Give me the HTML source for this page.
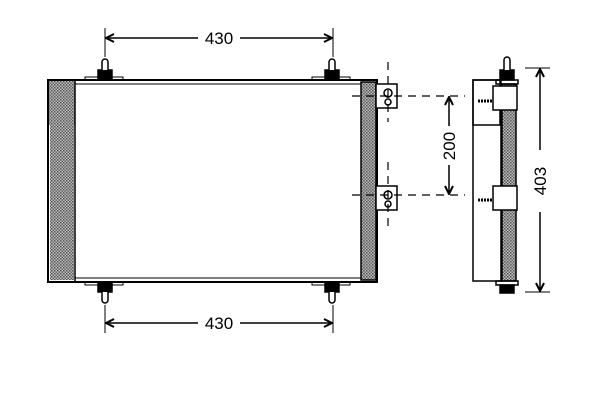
<!DOCTYPE html>
<html><head><style>body{margin:0;background:#fff}svg{display:block}</style></head><body>
<svg width="600" height="400" viewBox="0 0 600 400" xmlns="http://www.w3.org/2000/svg" font-family="Liberation Sans, sans-serif">
<defs>
<pattern id="h" width="3" height="3" patternUnits="userSpaceOnUse"><rect width="3" height="3" fill="#bbb"/><rect width="1.5" height="1.5" fill="#555"/><rect x="1.5" y="1.5" width="1.5" height="1.5" fill="#666"/></pattern>
<marker id="a" markerWidth="10" markerHeight="10" refX="9" refY="5" orient="auto" markerUnits="userSpaceOnUse"><path d="M1,1 L9,5 L1,9" fill="none" stroke="#000" stroke-width="2"/></marker>
</defs>
<g stroke="#000" fill="none" stroke-width="1.5">
<!-- main frame -->
<rect x="48" y="80" width="329" height="202" fill="#fff" stroke-width="2"/>
<rect x="49" y="81" width="26" height="44" fill="url(#h)" stroke="none"/>
<rect x="50" y="125" width="24" height="155" fill="url(#h)" stroke="none"/>
<line x1="75" y1="80" x2="75" y2="282"/>
<rect x="361" y="82" width="15" height="198" fill="url(#h)"/>
<line x1="75" y1="84" x2="361" y2="84" stroke-width="1"/>
<line x1="75" y1="278" x2="361" y2="278" stroke-width="1"/>
<!-- pins -->
<g fill="#000">
<rect x="98" y="70" width="14" height="10"/><rect x="325" y="70" width="14" height="10"/>
<rect x="98" y="282" width="14" height="10"/><rect x="325" y="282" width="14" height="10"/>
</g>
<path d="M102,70 V62 a3,3 0 0 1 6,0 V70 M329,70 V62 a3,3 0 0 1 6,0 V70 M102,292 V300 a3,3 0 0 0 6,0 V292 M329,292 V300 a3,3 0 0 0 6,0 V292" fill="#fff"/>
<g stroke-width="1"><rect x="85" y="77" width="38" height="3"/><rect x="312" y="77" width="38" height="3"/><rect x="85" y="282" width="38" height="3"/><rect x="312" y="282" width="38" height="3"/></g>
<!-- brackets -->
<rect x="376" y="84" width="21" height="24" fill="#fff"/>
<rect x="376" y="186" width="21" height="24" fill="#fff"/>
<circle cx="388" cy="93" r="4"/><circle cx="388" cy="102" r="3"/>
<circle cx="388" cy="195" r="4"/><circle cx="388" cy="204" r="3"/>
<!-- dashed lines -->
<g stroke-dasharray="8,6" stroke-width="1.2">
<line x1="352" y1="96" x2="465" y2="96"/><line x1="352" y1="195" x2="465" y2="195"/>
<line x1="388" y1="62" x2="388" y2="122"/><line x1="388" y1="162" x2="388" y2="226"/>
</g>
<!-- dimensions -->
<line x1="105" y1="28" x2="105" y2="57" stroke-width="1"/><line x1="333" y1="28" x2="333" y2="57" stroke-width="1"/>
<line x1="198" y1="38" x2="106" y2="38" marker-end="url(#a)"/><line x1="240" y1="38" x2="332" y2="38" marker-end="url(#a)"/>
<line x1="105" y1="305" x2="105" y2="333" stroke-width="1"/><line x1="333" y1="305" x2="333" y2="333" stroke-width="1"/>
<line x1="198" y1="323" x2="106" y2="323" marker-end="url(#a)"/><line x1="240" y1="323" x2="332" y2="323" marker-end="url(#a)"/>
<line x1="449" y1="126" x2="449" y2="97" marker-end="url(#a)"/><line x1="449" y1="165" x2="449" y2="194" marker-end="url(#a)"/>
<line x1="525" y1="68" x2="550" y2="68" stroke-width="1"/><line x1="525" y1="292" x2="550" y2="292" stroke-width="1"/>
<line x1="540" y1="150" x2="540" y2="69" marker-end="url(#a)"/><line x1="540" y1="212" x2="540" y2="291" marker-end="url(#a)"/>
<!-- side view -->
<rect x="473" y="80" width="28" height="201" fill="#fff"/>
<rect x="473" y="80" width="27" height="45"/>
<rect x="502" y="84" width="14" height="197" fill="url(#h)"/>
<rect x="496" y="80" width="22" height="4"/><rect x="496" y="281" width="22" height="4"/>
<rect x="500" y="70" width="14" height="10" fill="#000"/>
<path d="M504,70 V60 a3,3 0 0 1 6,0 V70" fill="#fff"/>
<rect x="500" y="285" width="14" height="8" fill="#000"/>
<rect x="493" y="86" width="24" height="24" fill="#fff"/>
<rect x="493" y="186" width="24" height="24" fill="#fff"/>
<line x1="478" y1="101" x2="493" y2="101" stroke-width="3" stroke-dasharray="2,1"/>
<line x1="478" y1="200" x2="493" y2="200" stroke-width="3" stroke-dasharray="2,1"/>
</g>
<g font-size="17" fill="#000" text-anchor="middle">
<text x="219" y="44">430</text>
<text x="219" y="329">430</text>
<text transform="translate(455,146) rotate(-90)">200</text>
<text transform="translate(546,181) rotate(-90)">403</text>
</g>
</svg>
</body></html>
